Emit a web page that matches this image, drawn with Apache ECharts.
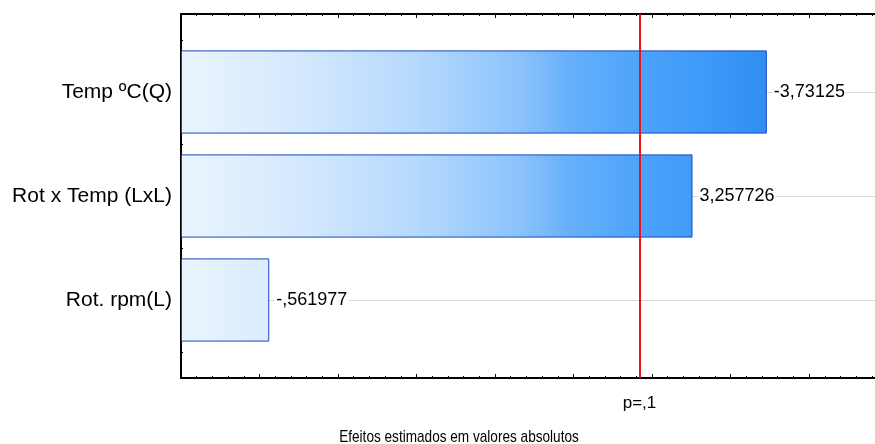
<!DOCTYPE html>
<html>
<head>
<meta charset="utf-8">
<title>Pareto dos efeitos</title>
<script src="https://cdn.jsdelivr.net/npm/echarts@6/dist/echarts.min.js"></script>
<style>
  html, body { margin: 0; padding: 0; background: #fff; }
  #chart { width: 875px; height: 444px; }
</style>
</head>
<body>
<div id="chart"></div>
<script>
// Estimated effects (signed) for each model term
const categories = ['Temp ºC(Q)', 'Rot x Temp (LxL)', 'Rot. rpm(L)'];
const effects = [-3.73125, 3.257726, -0.561977];
// Critical t value for p = 0.1
const pCritical = 2.919986;
const pLabel = 'p=,1';
const axisTitle = 'Efeitos estimados em valores absolutos';

const FONT = '"Liberation Sans", Arial, sans-serif';
const X_MAX = 4.42;

// Decimal comma, leading zero dropped (e.g. -,561977)
function fmtEffect(v) {
  return String(v).replace('.', ',').replace(/^(-?)0,/, '$1,');
}

const chart = echarts.init(document.getElementById('chart'), null, { renderer: 'canvas' });

// Fill shades across the whole axis width, light on the left, saturated on the right
const barFill = new echarts.graphic.LinearGradient(181, 0, 770, 0, [
  { offset: 0.00, color: '#eaf4fe' },
  { offset: 0.20, color: '#d4e9fd' },
  { offset: 0.40, color: '#b6d9fd' },
  { offset: 0.58, color: '#8ac2fb' },
  { offset: 0.66, color: '#66b0fb' },
  { offset: 0.80, color: '#49a1fa' },
  { offset: 0.92, color: '#3a97f8' },
  { offset: 1.00, color: '#2e8df3' }
], true);

const frameAxisX = (pos) => ({
  type: 'value', gridIndex: 0, position: pos,
  min: 0, max: X_MAX, interval: 0.5,
  axisLine: { show: true, onZero: false, lineStyle: { color: '#000', width: 2 } },
  axisTick: { show: true, inside: true, length: 4, lineStyle: { color: '#000', width: 1 } },
  minorTick: { show: true, splitNumber: 5, length: 2, lineStyle: { color: '#000', width: 1 } },
  axisLabel: { show: false },
  splitLine: { show: false },
  minorSplitLine: { show: false }
});

const option = {
  backgroundColor: '#fff',
  animation: false,
  grid: [
    { left: 181, right: 0, top: 14, bottom: 66 },
    { left: 181, right: 0, top: 40, bottom: 92 }
  ],
  xAxis: [
    frameAxisX('bottom'),
    frameAxisX('top'),
    {
      type: 'value', gridIndex: 1, min: 0, max: X_MAX,
      axisLine: { show: false }, axisTick: { show: false },
      axisLabel: { show: false }, splitLine: { show: false }
    }
  ],
  yAxis: [
    {
      type: 'value', gridIndex: 0, min: 0, max: 14, interval: 1,
      axisLine: { show: true, lineStyle: { color: '#000', width: 2 } },
      axisTick: { show: true, inside: true, length: 2, lineStyle: { color: '#000', width: 1 } },
      axisLabel: { show: false },
      splitLine: { show: false }
    },
    {
      type: 'category', gridIndex: 1, inverse: true, data: categories,
      axisLine: { show: false },
      axisTick: { show: true, inside: true, alignWithLabel: true, length: 4,
                  lineStyle: { color: '#000', width: 2 } },
      axisLabel: { color: '#000', fontFamily: FONT, fontSize: 21, margin: 9 },
      splitLine: { show: false }
    }
  ],
  series: [
    {
      // light rules through each term, behind the bars
      type: 'line', xAxisIndex: 2, yAxisIndex: 1, data: [], z: 1, silent: true,
      markLine: {
        z: 1,
        silent: true, symbol: 'none', animation: false,
        label: { show: false },
        lineStyle: { color: '#d9d9d9', width: 1, type: 'solid' },
        data: categories.map(c => ({ yAxis: c }))
      }
    },
    {
      type: 'bar', xAxisIndex: 2, yAxisIndex: 1, z: 3,
      data: effects.map(Math.abs),
      barCategoryGap: '20%',
      itemStyle: { color: barFill, borderColor: '#1548c2', borderWidth: 1 },
      label: {
        show: true, position: 'right', distance: 6,
        color: '#000', fontFamily: FONT, fontSize: 18,
        backgroundColor: '#fff', padding: [0, 1],
        formatter: p => fmtEffect(effects[p.dataIndex])
      }
    },
    {
      // significance threshold
      type: 'line', xAxisIndex: 0, yAxisIndex: 0, data: [], z: 5, silent: true,
      markLine: {
        z: 5,
        silent: true, symbol: 'none', animation: false,
        lineStyle: { color: '#e8141c', width: 2, type: 'solid' },
        label: {
          show: true, position: 'start', distance: 17,
          formatter: pLabel, color: '#000', fontFamily: FONT, fontSize: 17
        },
        data: [{ xAxis: pCritical }]
      }
    }
  ],
  graphic: [
    {
      type: 'text', x: 459, y: 437, scaleX: 0.8, originX: 0, originY: 0,
      style: {
        text: axisTitle, fill: '#000', font: '17px ' + FONT,
        textAlign: 'center', textVerticalAlign: 'middle'
      }
    }
  ]
};

chart.setOption(option);
</script>
</body>
</html>
